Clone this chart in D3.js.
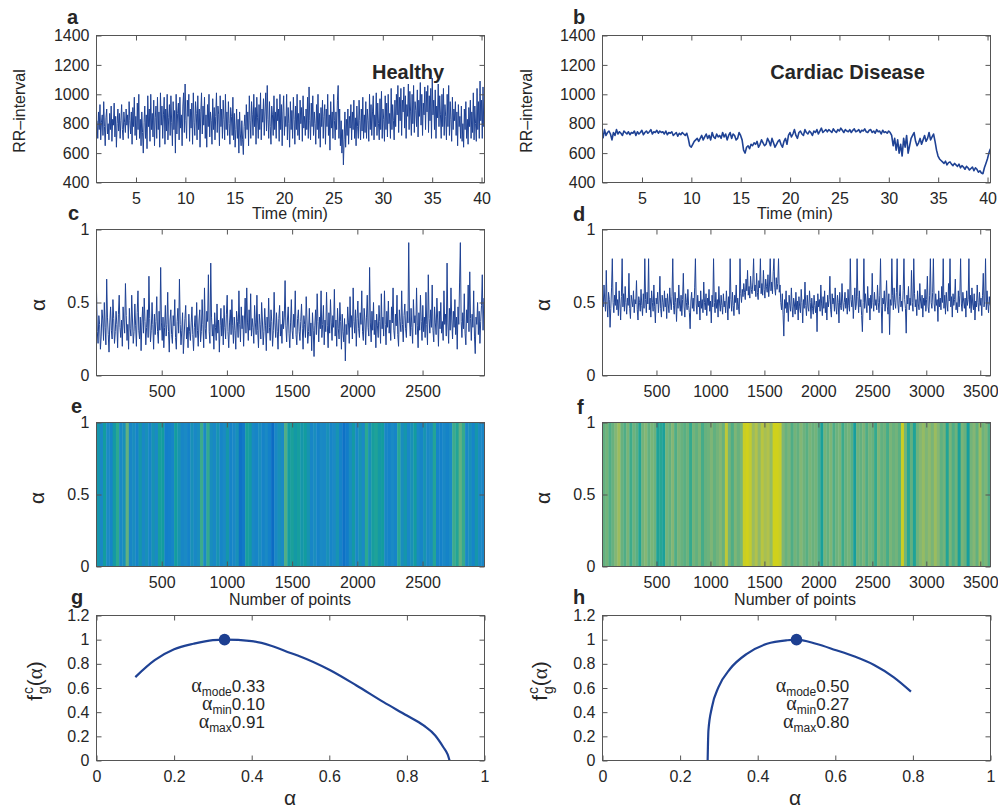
<!DOCTYPE html>
<html>
<head>
<meta charset="utf-8">
<script src="https://cdn.jsdelivr.net/npm/d3@7"></script>
<style>
  body { margin: 0; background: #fff; }
  svg { display: block; }
  text { font-family: "Liberation Sans", Arial, Helvetica, sans-serif; fill: #262626; }
</style>
</head>
<body>
<svg id="fig" width="998" height="810"></svg>
<script>
// ---------- RR-interval recordings (ms) ----------
// healthy record sampled every healthyStep minutes, disease record every diseaseStep minutes
const minuteStart = 1.05;
const healthyStep = 0.07563;
const rrHealthy = [
  820,700,880,760,930,690,810,860,720,950,780,650,840,900,730,800,690,870,760,920,
  680,830,790,940,710,850,640,800,900,750,870,700,820,930,760,690,880,810,740,900,
  790,860,700,950,820,730,880,660,910,780,980,720,850,690,940,760,1000,700,830,650,
  880,740,600,810,920,700,860,630,990,780,900,680,1000,760,870,710,960,650,840,920,
  700,980,760,880,640,1010,790,920,700,860,980,660,900,750,1000,690,840,930,720,990,
  810,650,950,760,890,600,1000,730,870,940,690,980,770,860,650,920,1010,740,1070,820,
  700,960,850,1000,680,900,770,940,660,1010,810,720,950,870,690,990,760,900,640,880,
  1010,730,920,790,980,700,860,640,930,780,1000,710,880,820,660,970,760,910,690,850,
  1010,740,920,860,650,990,780,900,700,960,830,690,1000,760,880,720,950,800,660,910,
  850,720,980,690,870,640,760,900,700,830,600,880,730,650,820,690,590,780,860,700,
  930,760,880,650,990,820,700,950,860,720,1000,780,910,660,980,840,700,930,760,1010,
  690,900,810,970,720,880,1010,750,1060,830,700,950,780,660,920,860,720,990,760,880,
  700,970,820,900,680,1000,760,930,650,880,990,720,850,780,1000,690,910,800,640,950,
  760,890,700,980,830,660,920,760,1000,720,870,690,960,800,910,680,990,770,850,720,
  900,760,980,700,1050,820,690,940,780,990,720,880,800,660,930,760,1000,700,870,640,
  910,780,960,700,850,930,660,900,780,1000,720,860,620,950,770,880,700,1000,820,690,
  880,760,960,1060,700,900,650,820,600,760,520,690,880,640,830,720,900,660,850,770,
  930,690,880,760,960,700,840,650,920,780,700,960,820,690,900,750,980,700,860,740,
  950,700,900,820,680,1000,760,930,720,880,990,690,860,780,1010,720,940,800,690,970,
  760,1020,700,900,830,680,990,760,940,710,1000,800,870,700,1040,760,930,820,690,960,
  780,1000,860,1060,740,980,820,1040,720,960,880,1050,770,990,700,930,850,1070,760,1020,
  880,720,1000,800,1060,740,950,890,780,1030,710,960,850,1080,790,1000,720,940,860,1050,
  760,1020,880,1060,740,990,820,1040,700,1110,860,960,760,1030,700,920,840,1070,780,990,
  860,700,1000,780,1040,720,930,850,690,1000,780,1060,720,950,830,680,980,760,900,820,
  950,720,880,650,930,780,850,700,920,680,800,640,900,760,950,700,830,660,910,780,
  960,700,880,740,1010,690,920,800,680,1040,760,950,700,1090,820,960,700,1050,780,1000
];
const diseaseStep = 0.1515;
const rrDisease = [
  700,760,720,740,750,730,690,740,720,760,730,745,735,720,750,740,730,745,725,740,
  735,750,720,745,730,740,755,725,740,750,735,745,760,730,745,740,755,735,750,740,
  745,730,750,725,740,735,745,720,730,740,715,735,725,740,730,720,735,700,650,640,
  660,680,690,700,680,700,720,690,710,730,700,720,690,740,710,700,730,710,720,700,
  740,710,730,690,720,740,700,730,720,690,700,740,720,690,620,600,640,650,630,660,
  650,670,660,680,640,660,690,670,650,660,700,680,650,700,670,640,660,680,690,660,
  640,680,700,660,720,740,710,730,760,720,700,740,750,730,720,760,740,730,750,740,
  720,750,740,760,730,750,770,740,750,760,745,760,750,740,765,750,740,760,750,770,
  755,740,760,750,745,760,740,755,765,745,750,760,740,755,750,765,745,740,755,760,
  740,750,735,760,745,750,730,755,740,745,735,750,740,720,650,700,620,690,600,660,
  580,700,640,720,600,650,700,720,740,680,650,670,700,660,690,720,680,700,740,690,
  710,730,680,620,580,560,550,540,530,545,520,535,540,525,515,530,520,510,525,500,
  515,505,490,510,500,485,495,505,480,500,490,470,480,465,460,500,530,560,600,630
];

// ---------- local singularity exponent α along the record ----------
const alphaStepHealthy = 6;
const alphaHealthy = [
  0.58,0.30,0.22,0.41,0.35,0.18,0.27,0.45,0.38,0.24,0.50,0.33,0.21,0.66,0.40,0.28,0.16,0.36,0.47,0.31,
  0.25,0.52,0.39,0.22,0.30,0.44,0.35,0.19,0.42,0.55,0.33,0.26,0.38,0.20,0.47,0.36,0.29,0.63,0.41,0.24,
  0.35,0.18,0.46,0.32,0.27,0.55,0.38,0.22,0.30,0.49,0.34,0.20,0.43,0.58,0.31,0.25,0.40,0.17,0.36,0.47,
  0.29,0.53,0.37,0.21,0.33,0.45,0.26,0.68,0.39,0.23,0.31,0.50,0.35,0.18,0.42,0.28,0.37,0.54,0.30,0.22,
  0.44,0.31,0.74,0.36,0.24,0.40,0.19,0.33,0.48,0.27,0.35,0.57,0.30,0.16,0.38,0.45,0.28,0.22,0.41,0.34,
  0.52,0.26,0.18,0.37,0.46,0.29,0.66,0.35,0.21,0.31,0.43,0.15,0.27,0.39,0.48,0.25,0.33,0.19,0.42,0.30,
  0.24,0.36,0.47,0.28,0.17,0.33,0.41,0.26,0.50,0.31,0.20,0.38,0.45,0.23,0.30,0.52,0.35,0.19,0.60,0.32,
  0.25,0.44,0.37,0.69,0.30,0.22,0.77,0.40,0.27,0.35,0.18,0.43,0.33,0.24,0.49,0.29,0.38,0.16,0.34,0.46,
  0.27,0.39,0.21,0.48,0.33,0.25,0.42,0.55,0.30,0.19,0.36,0.45,0.28,0.52,0.34,0.22,0.40,0.31,0.18,0.44,
  0.37,0.26,0.58,0.35,0.23,0.47,0.32,0.41,0.20,0.38,0.53,0.29,0.60,0.36,0.24,0.45,0.31,0.56,0.27,0.39,
  0.33,0.22,0.48,0.36,0.28,0.55,0.31,0.19,0.42,0.35,0.25,0.50,0.38,0.21,0.30,0.46,0.34,0.17,0.40,0.29,
  0.53,0.33,0.24,0.45,0.37,0.20,0.31,0.57,0.36,0.26,0.43,0.30,0.18,0.39,0.48,0.27,0.35,0.22,0.44,0.32,
  0.40,0.65,0.34,0.23,0.38,0.47,0.29,0.19,0.36,0.52,0.31,0.25,0.42,0.33,0.58,0.28,0.21,0.39,0.45,0.30,
  0.24,0.37,0.49,0.32,0.18,0.41,0.35,0.26,0.54,0.38,0.22,0.30,0.46,0.27,0.36,0.17,0.43,0.31,0.13,0.34,
  0.45,0.28,0.56,0.37,0.23,0.40,0.32,0.58,0.26,0.35,0.48,0.21,0.38,0.30,0.57,0.34,0.19,0.43,0.29,0.52,
  0.36,0.24,0.41,0.33,0.59,0.27,0.38,0.20,0.46,0.32,0.25,0.50,0.37,0.18,0.42,0.30,0.23,0.39,0.10,0.35,
  0.28,0.47,0.36,0.22,0.54,0.33,0.41,0.25,0.60,0.37,0.29,0.45,0.20,0.39,0.51,0.32,0.26,0.43,0.35,0.58,
  0.30,0.24,0.46,0.38,0.21,0.40,0.55,0.33,0.27,0.74,0.36,0.23,0.44,0.31,0.50,0.28,0.38,0.19,0.42,0.34,
  0.26,0.48,0.37,0.22,0.56,0.32,0.40,0.27,0.58,0.35,0.21,0.44,0.33,0.51,0.29,0.38,0.24,0.47,0.36,0.60,
  0.31,0.25,0.42,0.34,0.55,0.28,0.20,0.45,0.37,0.30,0.58,0.35,0.23,0.41,0.49,0.32,0.26,0.44,0.36,0.91,
  0.38,0.27,0.46,0.33,0.22,0.52,0.36,0.41,0.28,0.60,0.34,0.19,0.43,0.31,0.55,0.37,0.24,0.48,0.30,0.40,
  0.26,0.57,0.35,0.21,0.69,0.39,0.29,0.45,0.33,0.62,0.31,0.23,0.47,0.36,0.28,0.53,0.38,0.20,0.44,0.32,
  0.50,0.29,0.37,0.24,0.58,0.35,0.42,0.27,0.77,0.36,0.22,0.46,0.31,0.60,0.38,0.25,0.44,0.33,0.52,0.28,
  0.40,0.18,0.47,0.35,0.64,0.91,0.37,0.26,0.43,0.32,0.56,0.29,0.21,0.45,0.36,0.62,0.30,0.71,0.39,0.24,
  0.42,0.33,0.58,0.27,0.15,0.40,0.35,0.50,0.28,0.44,0.22,0.37,0.48,0.69,0.31,0.53
];
const alphaStepDisease = 7;
const alphaDisease = [
  0.55,0.47,0.62,0.51,0.44,0.72,0.49,0.40,0.57,0.52,0.33,0.46,0.60,0.80,0.50,0.43,0.55,0.48,0.64,0.45,
  0.52,0.41,0.58,0.49,0.38,0.54,0.80,0.47,0.56,0.44,0.61,0.50,0.42,0.53,0.48,0.70,0.46,0.39,0.55,0.51,
  0.47,0.58,0.43,0.52,0.49,0.65,0.45,0.38,0.54,0.50,0.44,0.59,0.48,0.41,0.56,0.46,0.80,0.52,0.43,0.57,
  0.49,0.80,0.45,0.53,0.40,0.58,0.50,0.44,0.62,0.47,0.36,0.53,0.49,0.57,0.43,0.51,0.68,0.46,0.40,0.55,
  0.50,0.44,0.58,0.47,0.53,0.39,0.56,0.49,0.43,0.60,0.51,0.45,0.54,0.80,0.48,0.42,0.57,0.50,0.37,0.53,
  0.46,0.62,0.49,0.44,0.55,0.41,0.52,0.70,0.47,0.40,0.56,0.50,0.45,0.59,0.48,0.43,0.32,0.51,0.57,0.46,
  0.53,0.44,0.60,0.80,0.49,0.42,0.55,0.47,0.51,0.38,0.58,0.46,0.52,0.43,0.64,0.50,0.45,0.56,0.41,0.53,
  0.48,0.59,0.44,0.51,0.36,0.55,0.47,0.80,0.50,0.43,0.57,0.46,0.52,0.40,0.61,0.49,0.44,0.55,0.48,0.42,
  0.56,0.47,0.51,0.43,0.58,0.49,0.38,0.54,0.46,0.80,0.52,0.44,0.57,0.48,0.41,0.55,0.50,0.62,0.45,0.53,
  0.47,0.42,0.80,0.56,0.50,0.59,0.54,0.63,0.57,0.52,0.66,0.58,0.72,0.55,0.61,0.53,0.68,0.59,0.56,0.64,
  0.80,0.58,0.62,0.54,0.70,0.57,0.52,0.65,0.60,0.80,0.56,0.63,0.55,0.72,0.59,0.53,0.66,0.61,0.57,0.69,
  0.54,0.62,0.80,0.58,0.64,0.56,0.71,0.80,0.60,0.55,0.67,0.59,0.63,0.80,0.57,0.62,0.50,0.45,0.56,0.42,
  0.27,0.52,0.46,0.58,0.43,0.50,0.37,0.55,0.48,0.44,0.60,0.47,0.40,0.53,0.49,0.42,0.57,0.45,0.51,0.38,
  0.54,0.47,0.43,0.59,0.50,0.36,0.52,0.46,0.64,0.48,0.41,0.55,0.47,0.44,0.58,0.50,0.39,0.53,0.46,0.42,
  0.55,0.48,0.43,0.51,0.30,0.56,0.47,0.52,0.44,0.62,0.49,0.41,0.54,0.46,0.58,0.43,0.50,0.38,0.55,0.47,
  0.52,0.68,0.45,0.40,0.56,0.49,0.53,0.44,0.60,0.47,0.42,0.55,0.50,0.36,0.57,0.48,0.45,0.63,0.51,0.44,
  0.50,0.57,0.46,0.53,0.42,0.59,0.48,0.44,0.80,0.52,0.47,0.55,0.39,0.51,0.60,0.45,0.49,0.80,0.54,0.43,
  0.58,0.47,0.52,0.41,0.30,0.50,0.80,0.46,0.56,0.49,0.43,0.61,0.48,0.53,0.38,0.55,0.46,0.70,0.50,0.44,
  0.57,0.48,0.52,0.45,0.62,0.50,0.43,0.55,0.80,0.47,0.29,0.53,0.49,0.58,0.44,0.51,0.65,0.47,0.42,0.56,
  0.28,0.52,0.48,0.80,0.55,0.45,0.60,0.50,0.46,0.57,0.80,0.49,0.43,0.54,0.62,0.47,0.51,0.44,0.58,0.80,
  0.52,0.46,0.29,0.55,0.49,0.61,0.45,0.53,0.48,0.72,0.50,0.44,0.80,0.56,0.47,0.52,0.41,0.58,0.49,0.45,
  0.63,0.51,0.46,0.55,0.40,0.53,0.48,0.59,0.44,0.52,0.68,0.47,0.43,0.55,0.80,0.50,0.46,0.57,0.80,0.49,
  0.44,0.56,0.48,0.52,0.37,0.58,0.47,0.53,0.45,0.61,0.50,0.80,0.46,0.55,0.42,0.57,0.49,0.44,0.63,0.51,
  0.80,0.47,0.54,0.40,0.56,0.48,0.52,0.66,0.45,0.50,0.43,0.58,0.47,0.55,0.80,0.49,0.44,0.57,0.51,0.46,
  0.53,0.40,0.58,0.48,0.52,0.80,0.46,0.55,0.43,0.60,0.49,0.45,0.56,0.38,0.51,0.47,0.62,0.50,0.44,0.57,
  0.48,0.53,0.41,0.55,0.70,0.47,0.51,0.80,0.45,0.58,0.49,0.43,0.54,0.48
];

// ---------- α averaged over consecutive bins, shown as colour stripes ----------
const stripeHealthy = [
  0.38,0.33,0.40,0.34,0.31,0.39,0.46,0.33,0.36,0.52,0.32,0.35,0.30,0.38,0.33,0.36,0.31,0.37,0.34,0.41,
  0.40,0.28,0.29,0.31,0.40,0.37,0.32,0.34,0.30,0.36,0.33,0.35,0.48,0.34,0.47,0.35,0.33,0.37,0.31,0.34,
  0.38,0.30,0.33,0.36,0.24,0.26,0.41,0.39,0.33,0.31,0.35,0.30,0.34,0.29,0.22,0.33,0.36,0.34,0.50,0.40,
  0.42,0.39,0.41,0.38,0.40,0.37,0.32,0.35,0.30,0.34,0.33,0.36,0.31,0.34,0.37,0.30,0.24,0.27,0.35,0.39,
  0.33,0.37,0.34,0.46,0.36,0.41,0.43,0.39,0.40,0.32,0.30,0.34,0.31,0.45,0.35,0.38,0.33,0.36,0.40,0.34,
  0.31,0.37,0.33,0.35,0.44,0.31,0.29,0.33,0.30,0.34,0.48,0.44,0.52,0.47,0.33,0.36,0.31,0.38,0.34,0.32
];
const stripeDisease = [
  0.52,0.55,0.50,0.53,0.58,0.62,0.53,0.50,0.56,0.48,0.54,0.51,0.44,0.55,0.58,0.52,0.56,0.54,0.43,0.45,
  0.42,0.55,0.52,0.58,0.50,0.56,0.53,0.51,0.54,0.47,0.55,0.52,0.56,0.49,0.53,0.54,0.57,0.52,0.55,0.58,
  0.53,0.70,0.55,0.50,0.57,0.53,0.56,0.74,0.78,0.72,0.62,0.66,0.60,0.68,0.64,0.66,0.61,0.76,0.78,0.73,
  0.57,0.53,0.56,0.50,0.55,0.52,0.58,0.54,0.51,0.56,0.53,0.55,0.50,0.42,0.55,0.52,0.57,0.50,0.54,0.56,
  0.48,0.53,0.55,0.51,0.41,0.54,0.52,0.56,0.50,0.55,0.53,0.47,0.57,0.52,0.54,0.49,0.56,0.53,0.55,0.51,
  0.74,0.55,0.45,0.52,0.43,0.54,0.58,0.61,0.57,0.60,0.56,0.62,0.58,0.52,0.55,0.44,0.56,0.50,0.54,0.42,
  0.56,0.53,0.41,0.55,0.58,0.52,0.62,0.54,0.57,0.50
];

// ---------- coarse-grained multifractal spectra f_g^c(α) ----------
const spectrumHealthyAlpha = [0.10,0.15,0.20,0.25,0.30,0.33,0.40,0.45,0.50,0.525,0.60,0.67,0.74,0.80,0.843,0.873,0.894,0.905,0.91];
const spectrumHealthyF     = [0.69,0.83,0.92,0.966,0.996,1.00,0.988,0.95,0.89,0.861,0.751,0.621,0.483,0.372,0.29,0.207,0.11,0.05,0.00];
const spectrumDiseaseAlpha = [0.271,0.273,0.282,0.299,0.329,0.372,0.424,0.476,0.50,0.55,0.60,0.65,0.70,0.75,0.795];
const spectrumDiseaseF     = [0.00,0.248,0.441,0.607,0.759,0.883,0.966,0.995,1.00,0.966,0.915,0.86,0.79,0.69,0.57];
const modeHealthy = [0.33, 1.0];
const modeDisease = [0.50, 1.0];
const statsHealthy = [["mode", "0.33"], ["min", "0.10"], ["max", "0.91"]];
const statsDisease = [["mode", "0.50"], ["min", "0.27"], ["max", "0.80"]];

// ---------- tick values ----------
const timeTicks = [5, 10, 15, 20, 25, 30, 35, 40];
const rrTicks = [400, 600, 800, 1000, 1200, 1400];
const alphaTicks = [0, 0.5, 1];
const pointTicksHealthy = [500, 1000, 1500, 2000, 2500];
const pointTicksDisease = [500, 1000, 1500, 2000, 2500, 3000, 3500];
const spectrumXTicks = [0, 0.2, 0.4, 0.6, 0.8, 1];
const spectrumYTicks = [0, 0.2, 0.4, 0.6, 0.8, 1, 1.2];

// ---------- drawing ----------
const LINE = "#1f4294";
const AXIS = "#555";
const svg = d3.select("#fig");
const defs = svg.append("defs");

const boxes = {
  a: {l: 96.5, r: 484.5, t: 35.5, b: 182.5},
  b: {l: 602.5, r: 990.5, t: 35.5, b: 182.5},
  c: {l: 96.5, r: 484.5, t: 229.5, b: 375.5},
  d: {l: 602.5, r: 990.5, t: 229.5, b: 375.5},
  e: {l: 96.5, r: 484.5, t: 422.5, b: 566.5},
  f: {l: 602.5, r: 990.5, t: 422.5, b: 566.5},
  g: {l: 96.5, r: 484.5, t: 615.5, b: 760.5},
  h: {l: 602.5, r: 990.5, t: 615.5, b: 760.5}
};

function makePanel(key, xDom, yDom) {
  const bx = boxes[key];
  const w = bx.r - bx.l, h = bx.b - bx.t;
  const g = svg.append("g").attr("transform", `translate(${bx.l},${bx.t})`);
  const x = d3.scaleLinear().domain(xDom).range([0, w]);
  const y = d3.scaleLinear().domain(yDom).range([h, 0]);
  defs.append("clipPath").attr("id", "clip-" + key)
    .append("rect").attr("width", w).attr("height", h);
  const plot = g.append("g").attr("clip-path", `url(#clip-${key})`);
  return {g, plot, x, y, w, h};
}

function styleAxis(sel) {
  sel.attr("font-family", null).attr("font-size", null);
  sel.select(".domain").remove();
  sel.selectAll("line").attr("stroke", AXIS).attr("stroke-width", 1);
  sel.selectAll("text").attr("font-size", 16).attr("fill", "#262626");
}

function drawAxes(p, xTicks, yTicks) {
  const fmt = d => String(d);
  p.g.append("g").attr("transform", `translate(0,${p.h})`)
    .call(d3.axisBottom(p.x).tickValues(xTicks).tickSize(-5).tickSizeOuter(0).tickPadding(10).tickFormat(fmt))
    .call(styleAxis);
  p.g.append("g")
    .call(d3.axisTop(p.x).tickValues(xTicks).tickSize(-5).tickSizeOuter(0).tickFormat(""))
    .call(styleAxis);
  p.g.append("g")
    .call(d3.axisLeft(p.y).tickValues(yTicks).tickSize(-5).tickSizeOuter(0).tickPadding(7).tickFormat(fmt))
    .call(styleAxis);
  p.g.append("g").attr("transform", `translate(${p.w},0)`)
    .call(d3.axisRight(p.y).tickValues(yTicks).tickSize(-5).tickSizeOuter(0).tickFormat(""))
    .call(styleAxis);
  p.g.append("rect").attr("width", p.w).attr("height", p.h)
    .attr("fill", "none").attr("stroke", AXIS).attr("stroke-width", 1);
}

function seriesLine(p, values, x0, step, width) {
  const line = d3.line().x((d, i) => p.x(x0 + i * step)).y(d => p.y(d));
  p.plot.append("path").datum(values).attr("d", line)
    .attr("fill", "none").attr("stroke", LINE).attr("stroke-width", width)
    .attr("stroke-linejoin", "round");
}

// colour map for α stripes
const stripeColor = d3.scaleLinear()
  .domain([0.20, 0.28, 0.34, 0.40, 0.46, 0.52, 0.58, 0.66, 0.76])
  .range(["#0a66c2", "#137fca", "#1a8ac4", "#139c9f", "#2ba891", "#62b080", "#84b674", "#b2c24a", "#cfd11c"])
  .clamp(true);

function stripes(p, values, xMax) {
  const binW = xMax / values.length;
  p.plot.selectAll("rect.stripe").data(values).join("rect")
    .attr("class", "stripe")
    .attr("x", (d, i) => p.x(i * binW))
    .attr("width", (d, i) => p.x((i + 1) * binW) - p.x(i * binW) + 0.4)
    .attr("y", 0).attr("height", p.h)
    .attr("fill", d => stripeColor(d));
}

function txt(x, y, s, opt = {}) {
  const t = svg.append("text").attr("x", x).attr("y", y).text(s)
    .attr("font-size", opt.size || 16)
    .attr("text-anchor", opt.anchor || "start");
  if (opt.bold) t.attr("font-weight", "bold");
  if (opt.serif) t.attr("font-family", "'Liberation Serif', 'Times New Roman', serif");
  if (opt.rotate) t.attr("x", null).attr("y", null)
    .attr("transform", `translate(${x},${y}) rotate(-90)`);
  return t;
}

// panel a / b : RR intervals
const pa = makePanel("a", [1.0, 40.3], [400, 1400]);
seriesLine(pa, rrHealthy, minuteStart, healthyStep, 1.0);
pa.g.append("text").attr("x", pa.x(28.9)).attr("y", pa.y(1104))
  .attr("font-size", 20).attr("font-weight", "bold").attr("fill", "#1a1a1a").text("Healthy");
drawAxes(pa, timeTicks, rrTicks);

const pb = makePanel("b", [1.0, 40.3], [400, 1400]);
seriesLine(pb, rrDisease, minuteStart, diseaseStep, 1.6);
pb.g.append("text").attr("x", pb.x(18.0)).attr("y", pb.y(1104))
  .attr("font-size", 20).attr("font-weight", "bold").attr("fill", "#1a1a1a").text("Cardiac Disease");
drawAxes(pb, timeTicks, rrTicks);

// panel c / d : α series
const pc = makePanel("c", [0, 2975], [0, 1]);
seriesLine(pc, alphaHealthy, 0, alphaStepHealthy, 1.0);
drawAxes(pc, pointTicksHealthy, alphaTicks);

const pd = makePanel("d", [0, 3595], [0, 1]);
seriesLine(pd, alphaDisease, 0, alphaStepDisease, 1.0);
drawAxes(pd, pointTicksDisease, alphaTicks);

// panel e / f : α colour stripes
const pe = makePanel("e", [0, 2975], [0, 1]);
stripes(pe, stripeHealthy, 2975);
drawAxes(pe, pointTicksHealthy, alphaTicks);

const pf = makePanel("f", [0, 3595], [0, 1]);
stripes(pf, stripeDisease, 3595);
drawAxes(pf, pointTicksDisease, alphaTicks);

// panel g / h : spectra
function spectrum(p, xs, fs, mode, stats, statX, statY) {
  const line = d3.line().curve(d3.curveMonotoneX).x(d => p.x(d[0])).y(d => p.y(d[1]));
  p.plot.append("path").datum(xs.map((a, i) => [a, fs[i]])).attr("d", line)
    .attr("fill", "none").attr("stroke", LINE).attr("stroke-width", 2.2);
  p.g.append("circle").attr("cx", p.x(mode[0])).attr("cy", p.y(mode[1])).attr("r", 5.8)
    .attr("fill", "#1d3f91");
  stats.forEach((r, i) => {
    const t = p.g.append("text").attr("x", p.x(statX)).attr("y", p.y(statY) + i * 18)
      .attr("text-anchor", "end").attr("font-size", 17);
    t.append("tspan").attr("font-family", "'Liberation Serif', serif").attr("font-size", 20).text("α");
    t.append("tspan").attr("font-size", 12).attr("dy", 4).text(r[0]);
    t.append("tspan").attr("dy", -4).text(r[1]);
  });
}

const pg = makePanel("g", [0, 1], [0, 1.2]);
spectrum(pg, spectrumHealthyAlpha, spectrumHealthyF, modeHealthy, statsHealthy, 0.434, 0.563);
drawAxes(pg, spectrumXTicks, spectrumYTicks);

const ph = makePanel("h", [0, 1], [0, 1.2]);
spectrum(ph, spectrumDiseaseAlpha, spectrumDiseaseF, modeDisease, statsDisease, 0.636, 0.563);
drawAxes(ph, spectrumXTicks, spectrumYTicks);

// axis titles
txt(25, 111, "RR–interval", {rotate: true, anchor: "middle"});
txt(532, 111, "RR–interval", {rotate: true, anchor: "middle"});
txt(290, 219, "Time (min)", {anchor: "middle"});
txt(795, 219, "Time (min)", {anchor: "middle"});
txt(45, 305, "α", {rotate: true, anchor: "middle", serif: true, size: 21});
txt(550, 305, "α", {rotate: true, anchor: "middle", serif: true, size: 21});
txt(44, 498, "α", {rotate: true, anchor: "middle", serif: true, size: 21});
txt(550, 498, "α", {rotate: true, anchor: "middle", serif: true, size: 21});
txt(290, 605, "Number of points", {anchor: "middle"});
txt(795, 605, "Number of points", {anchor: "middle"});
txt(290, 805, "α", {anchor: "middle", serif: true, size: 21});
txt(795, 805, "α", {anchor: "middle", serif: true, size: 21});

function spectrumYLabel(x, y) {
  const t = svg.append("text").attr("transform", `translate(${x},${y}) rotate(-90)`)
    .attr("text-anchor", "middle").attr("font-size", 21);
  t.append("tspan").text("f");
  t.append("tspan").attr("font-size", 14).attr("dx", 1).attr("dy", -9).text("c");
  t.append("tspan").attr("font-size", 14).attr("dx", -7).attr("dy", 15).text("g");
  t.append("tspan").attr("dy", -6).text("(");
  t.append("tspan").attr("font-family", "'Liberation Serif', serif").text("α");
  t.append("tspan").text(")");
}
spectrumYLabel(42, 681);
spectrumYLabel(547, 681);

// panel letters
[["a", 67, 24], ["b", 573, 24], ["c", 68, 220], ["d", 573, 221],
 ["e", 71, 413], ["f", 577, 414], ["g", 71, 604], ["h", 573, 604]]
  .forEach(([s, x, y]) => txt(x, y, s, {bold: true, size: 20}).attr("fill", "#111"));
</script>
</body>
</html>
